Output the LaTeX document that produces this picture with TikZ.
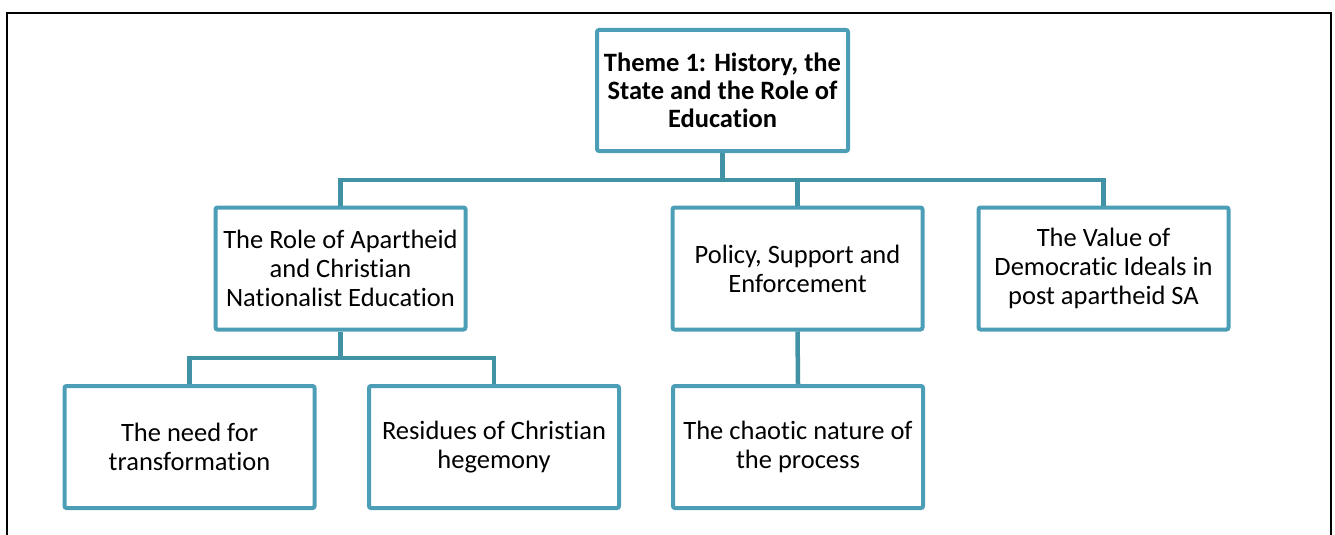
\documentclass[tikz,border=0pt]{standalone}
\usepackage{fontspec}
\setmainfont{Carlito}[RawFeature={-liga}]
\definecolor{tealbox}{RGB}{75,158,181}
\definecolor{tealline}{RGB}{66,146,166}
\begin{document}
\begin{tikzpicture}[x=1pt,y=-1pt,
  box/.style={draw=tealbox, line width=4pt, rounded corners=2pt,
    minimum width=250pt, minimum height=122pt, inner sep=0pt,
    align=center, font=\fontsize{26.5}{29}\selectfont},
  conn/.style={draw=tealline, line width=4.5pt, line join=miter}]
\useasboundingbox (0,0) rectangle (1335,535);
\draw[line width=2pt] (7,535) -- (7,13) -- (1331,13) -- (1331,535);

\node[box, minimum width=251pt, minimum height=121pt, font=\fontsize{26.5}{28}\selectfont\bfseries] (root) at (722.5,90.5)
  {Theme 1: History, the\\State and the Role of\\Education};
\node[box] (a) at (340.5,268.5) {The Role of Apartheid\\and Christian\\Nationalist Education};
\node[box] (b) at (797.5,268.5) {Policy, Support and\\Enforcement};
\node[box] (c) at (1103.5,268.5) {The Value of\\Democratic Ideals in\\post apartheid SA};
\node[box] (d) at (189.5,447) {The need for\\transformation};
\node[box] (e) at (494,447) {Residues of Christian\\hegemony};
\node[box] (f) at (798,447) {The chaotic nature of\\the process};

\coordinate (bar1) at (0,180);
\coordinate (bar2) at (0,358);

\draw[conn] (root.south) -- (root.south |- bar1);
\draw[conn] (a.north) -- (a.north |- bar1) -| (c.north);
\draw[conn] (b.north) -- (b.north |- bar1);
\draw[conn] (a.south) -- (a.south |- bar2);
\draw[conn] (d.north) -- (d.north |- bar2) -| (e.north);
\draw[conn] (b.south) -- (f.north);
\end{tikzpicture}
\end{document}
